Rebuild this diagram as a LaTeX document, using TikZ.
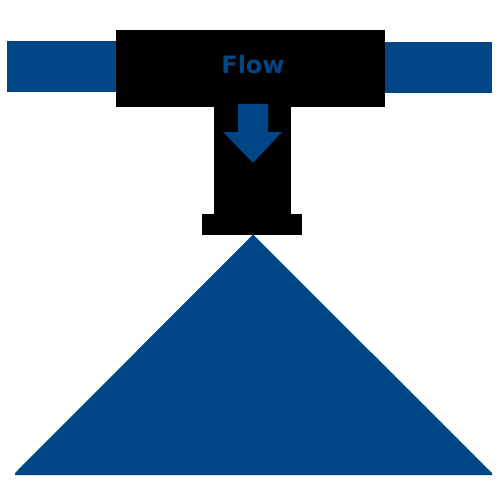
\documentclass[tikz,border=0pt]{standalone}
\usepackage{fontspec}
\setmainfont{DejaVu Sans}
\definecolor{flowblue}{HTML}{004586}
\tikzset{
  bluepart/.style={fill=flowblue,draw=none},
  blackpart/.style={fill=black,draw=none},
  flowlabel/.style={text=flowblue,font=\fontsize{24}{28}\selectfont\bfseries,inner sep=0pt,anchor=base}
}
\begin{document}
\begin{tikzpicture}[x=1pt,y=-1pt]
\useasboundingbox (0,0) rectangle (500,500);
\fill[white] (0,0) rectangle (500,500);
% pipes
\path[bluepart] (7,41) rectangle (116,92);
\path[bluepart] (385,42) rectangle (492,93);
% valve body
\path[blackpart] (116,30) rectangle (385,107);
\path[blackpart] (214,107) rectangle (291,214);
\path[blackpart] (202,214) rectangle (302,235);
% arrow
\path[bluepart] (238,104) -- (268,104) -- (268,132) -- (282,132) -- (253,163) -- (223,132) -- (238,132) -- cycle;
% spray cone
\path[bluepart] (253,234.5) -- (492,473) -- (492,475) -- (15,475) -- (15,473) -- cycle;
\node[flowlabel] (flow) at (253,73.3) {Flow};
\end{tikzpicture}
\end{document}
